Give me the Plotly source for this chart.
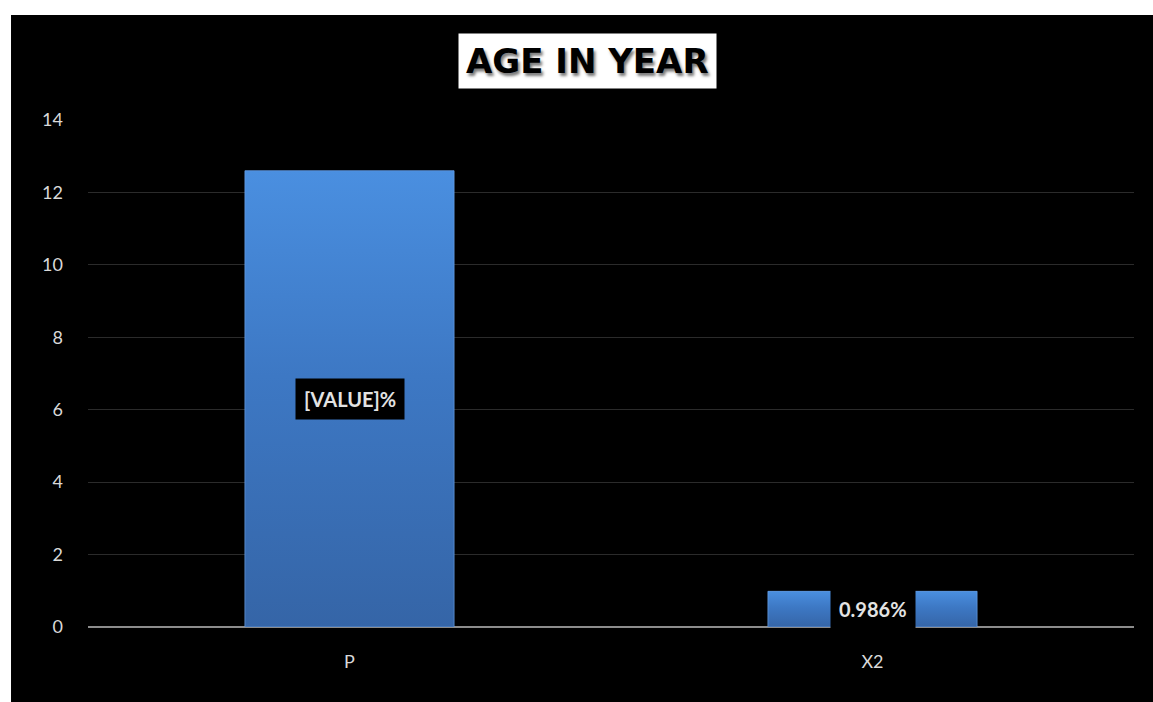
import plotly.graph_objects as go

# Chart data
categories = ["P", "X2"]
values = [12.6, 0.986]
bar_labels = ["[VALUE]%", "0.986%"]
y_ticks = [0, 2, 4, 6, 8, 10, 12, 14]

FONT = "Lato"
TITLE_FONT = "DejaVu Sans"
BAR_W = 0.4
positions = list(range(len(categories)))

fig = go.Figure()

# Base bars
fig.add_trace(go.Bar(
    x=positions,
    y=values,
    width=BAR_W,
    marker=dict(color="#3e79c6", line=dict(width=0)),
    hovertext=categories, hoverinfo="text+y",
    showlegend=False,
))

# Vertical shading over each bar (darker at the base, lighter on top)
for pos, val in zip(positions, values):
    x0, x1 = pos - BAR_W / 2, pos + BAR_W / 2
    fig.add_trace(go.Scatter(
        x=[x0, x1, x1, x0, x0],
        y=[0, 0, val, val, 0],
        mode="lines", fill="toself",
        line=dict(color="rgba(110,165,235,0.6)", width=1),
        fillgradient=dict(type="vertical",
                          colorscale=[[0, "#3565a7"], [0.55, "#3d78c4"], [1, "#4a8fe0"]]),
        hoverinfo="skip", showlegend=False,
    ))

# Value labels centred in each bar on a black box
for pos, val, txt in zip(positions, values, bar_labels):
    fig.add_annotation(
        x=pos, y=val / 2, xref="x", yref="y", text=f"<b>{txt}</b>",
        showarrow=False, bgcolor="#000000", borderpad=8,
        font=dict(family=FONT, size=20, color="#e3e3e3"),
    )

# Title in a white box
fig.add_annotation(
    x=0.4775, y=1.117, xref="paper", yref="paper", yanchor="middle",
    text="<b>AGE IN YEAR</b>", showarrow=False,
    bgcolor="#ffffff", borderpad=7,
    font=dict(family=TITLE_FONT, size=34, color="#000000",
              shadow="2px 3px 3px #7a7a7a"),
)

# Black chart panel over the white page
fig.add_shape(
    type="rect", xref="paper", yref="paper",
    x0=-0.0736, x1=1.2, y0=-0.3, y1=1.207,
    fillcolor="#000000", line=dict(width=0), layer="below",
)

fig.update_layout(
    width=1153, height=702,
    margin=dict(l=88, r=19, t=120, b=75),
    paper_bgcolor="#ffffff",
    plot_bgcolor="#000000",
    font=dict(family=FONT, color="#d9d9d9", size=18),
)

fig.update_xaxes(
    range=[-0.5, 1.5], tickvals=positions, ticktext=categories,
    showgrid=False, showline=False, zeroline=False,
    ticks="", ticklabelstandoff=22,
    tickfont=dict(family=FONT, size=18, color="#d9d9d9"),
)

fig.update_yaxes(
    range=[0, 14], tickvals=y_ticks, ticktext=[str(t) for t in y_ticks],
    showgrid=True, gridcolor="#2b2b2b", gridwidth=1,
    zeroline=True, zerolinecolor="#8c8c8c", zerolinewidth=2,
    showline=False, ticks="", ticklabelstandoff=24,
    tickfont=dict(family=FONT, size=18, color="#d9d9d9"),
)

fig.write_html("out.html")
